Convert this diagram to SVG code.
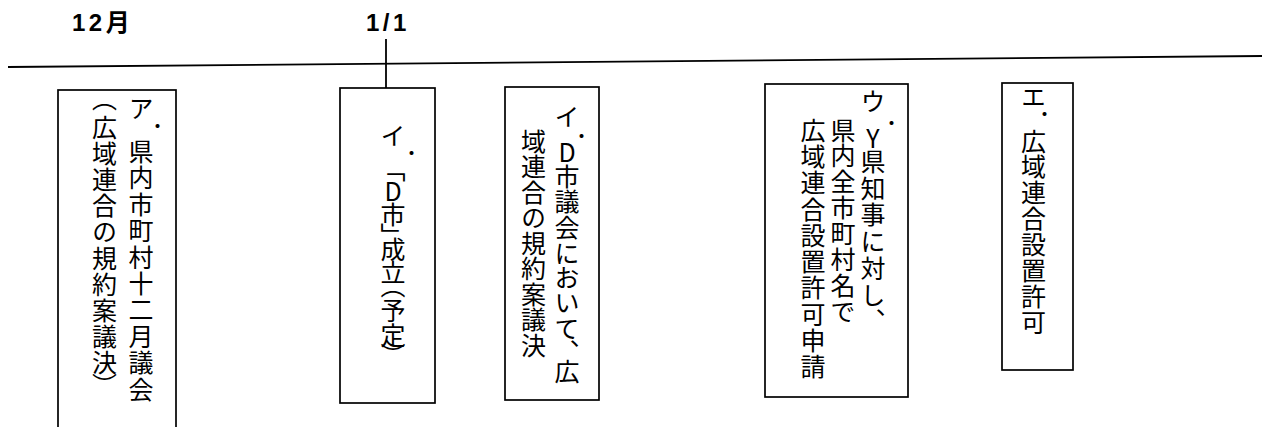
<svg xmlns="http://www.w3.org/2000/svg" width="1262" height="427" viewBox="0 0 1262 427">
<style>
.box{fill:#fff;stroke:#000;stroke-width:1.7}
.ln{fill:none;stroke:#000;stroke-width:1.8}
.vt{font-family:"Noto Sans CJK JP","Noto Sans CJK SC",sans-serif;font-size:25px;writing-mode:vertical-rl;text-orientation:upright;fill:#000}
.lbl{font-family:"Liberation Sans","Noto Sans CJK JP",sans-serif;font-size:24px;font-weight:bold;letter-spacing:3.5px;fill:#000}
</style>
<rect width="1262" height="427" fill="#fff"/>
<g id="labels">
<text class="lbl" x="72" y="31">12月</text>
<text class="lbl" x="366" y="31">1/1</text>
</g>
<g id="connectors">
<line class="ln" x1="8" y1="67" x2="1262" y2="56"/>
<line class="ln" x1="386" y1="39" x2="386" y2="88"/>
</g>
<g id="node-a">
<rect class="box" x="58" y="90" width="118" height="350"/>
<text class="vt" x="141 151 141 141 141 141 141 141 141 141 141 141" y="95.5 121.5 139 165 192 218 245 271 297 324 350 376.5">ア．県内市町村十二月議会</text>
<text class="vt" x="104.5" y="86 115 141 167 193 219 245.5 271.5 297.5 324 350 373">（広域連合の規約案議決）</text>
</g>
<g id="node-b">
<rect class="box" x="340" y="88" width="95" height="315"/>
<text class="vt" x="393 405 393 393 393 393 393 393 393 393 393 393" y="122.5 148.5 157 178.5 201.5 222.5 236.5 260 273 298 322.5 343">イ．「D市」成立（予定）</text>
</g>
<g id="node-c">
<rect class="box" x="505" y="87" width="94" height="313"/>
<text class="vt" x="567 575 567 567 567 567 567 567 567 567 567 567" y="104 131.5 140 163.5 189 214.5 240.5 265 290 315.5 339 359">イ．D市議会において、広</text>
<text class="vt" x="533.5" y="128.5 154 179.5 205 230.5 256 281.5 307 332.5">域連合の規約案議決</text>
</g>
<g id="node-d">
<rect class="box" x="765" y="84" width="143" height="313"/>
<text class="vt" x="873 885 873 873 873 873 873 873 873 873" y="89 118.5 126 149 176 202 229 256 282.5 307.5">ウ．Y県知事に対し、</text>
<text class="vt" x="843" y="117.5 143.4 169.2 195.1 220.9 246.8 272.6 298.5">県内全市町村名で</text>
<text class="vt" x="813" y="118 144.2 170.4 196.7 222.9 249.1 275.3 301.6 327.8 354">広域連合設置許可申請</text>
</g>
<g id="node-e">
<rect class="box" x="1002" y="83" width="71" height="287"/>
<text class="vt" x="1033.5 1038 1033.5 1033.5 1033.5 1033.5 1033.5 1033.5 1033.5 1033.5" y="84 109.5 128.5 154.4 180.4 206.3 232.2 258.1 284.1 310">エ．広域連合設置許可</text>
</g>
</svg>
